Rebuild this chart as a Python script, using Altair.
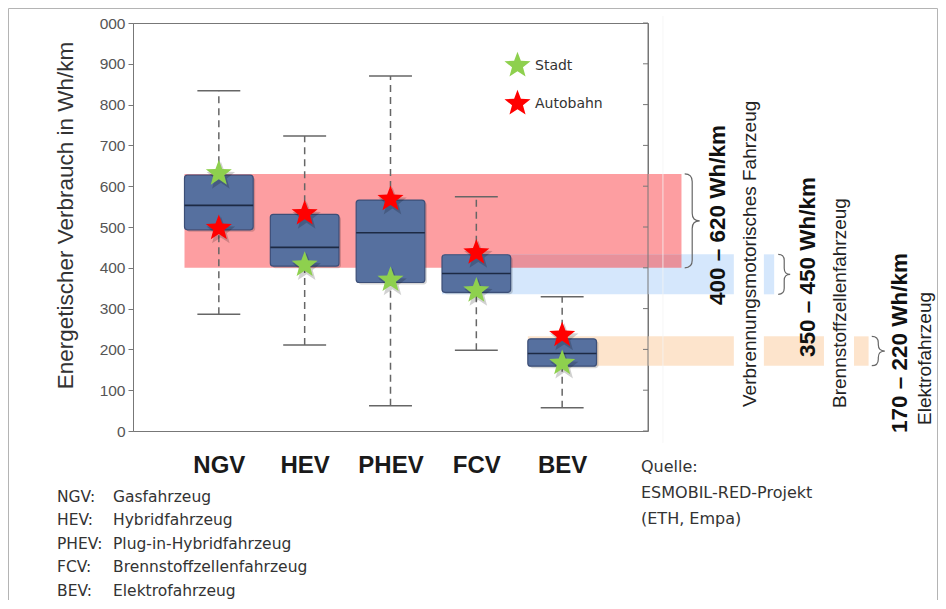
import math
import altair as alt
import pandas as pd

# ---------------- data ----------------
categories = ["NGV", "HEV", "PHEV", "FCV", "BEV"]
descriptions = ["Gasfahrzeug", "Hybridfahrzeug", "Plug-in-Hybridfahrzeug",
                "Brennstoffzellenfahrzeug", "Elektrofahrzeug"]
whisker_low = [286, 211, 62, 198, 57]
q1 = [493, 404, 364, 340, 159]
median = [553, 450, 486, 386, 190]
q3 = [627, 531, 566, 432, 226]
whisker_high = [834, 723, 870, 574, 329]
stadt = [631, 407, 370, 344, 166]
autobahn = [497, 533, 568, 437, 235]

band_names = ["Verbrennungsmotorisches Fahrzeug", "Brennstoffzellenfahrzeug", "Elektrofahrzeug"]
band_labels = ["400 – 620 Wh/km", "350 – 450 Wh/km", "170 – 220 Wh/km"]
band_low = [400, 335, 160]
band_high = [630, 433, 232]
band_colors = ["#fd9ea1", "#d5e7fc", "#fde4cc"]
overlap_color = "#e8919b"
band_segments = [[(-0.4, 5.39)], [(2.6, 6.0), (6.35, 6.47)],
                 [(3.6, 6.0), (6.35, 7.05), (7.4, 7.57)]]
brace_x = [5.515, 6.587, 7.683]

source_lines = ["Quelle:", "ESMOBIL-RED-Projekt", "(ETH, Empa)"]
legend_names = ["Stadt", "Autobahn"]
star_colors = ["#8ed04e", "#ff0000"]
y_ticks = list(range(0, 1001, 100))

FONT = "Liberation Sans, Arial, Helvetica, sans-serif"
BODY = "DejaVu Sans, Verdana, sans-serif"

# five-pointed star glyph (unit radius) as a custom symbol path
pts = []
for k in range(10):
    r = 1.0 if k % 2 == 0 else 0.42
    ang = math.radians(-90 + 36 * k)
    pts.append(f"{r * math.cos(ang):.4f},{r * math.sin(ang):.4f}")
STAR = "M" + " L".join(pts) + " Z"

xs = alt.Scale(domain=[-1, 5], nice=False, zero=False)
ys = alt.Scale(domain=[0, 1000], nice=False, zero=False)
label_expr = "[" + ",".join(f"'{c}'" for c in categories) + "][datum.value]"
x_axis = alt.Axis(values=[0, 1, 2, 3, 4], labelExpr=label_expr, title=None, grid=False,
                  ticks=False, tickSize=0, domain=False, labelFont=FONT,
                  labelFontSize=24, labelFontWeight="bold", labelColor="#1a1a1a",
                  labelPadding=22, orient="bottom")
y_axis = alt.Axis(values=y_ticks, labelExpr="datum.value == 1000 ? '000' : datum.label",
                  title="Energetischer Verbrauch in Wh/km", titleX=-68, titleY=192,
                  titleAngle=270, titleAlign="center", titleBaseline="middle",
                  titleFont=FONT, titleFontSize=22.5, titleFontWeight="normal",
                  titleColor="#333", labelFont=FONT, labelFontSize=15.5, labelColor="#555",
                  labelPadding=3, tickSize=5, tickColor="#777", domainColor="#777",
                  grid=False, orient="left")


def X(f):
    return alt.X(f"{f}:Q", scale=xs, axis=x_axis)


def Y(f):
    return alt.Y(f"{f}:Q", scale=ys, axis=y_axis)


idx = list(range(len(categories)))
box = pd.DataFrame({"i": idx, "cat": categories, "lo": whisker_low, "q1": q1,
                    "med": median, "q3": q3, "hi": whisker_high})
box["left"] = box["i"] - 0.4
box["right"] = box["i"] + 0.4
box["capl"] = box["i"] - 0.25
box["capr"] = box["i"] + 0.25

band_rows = []
for k in range(3):
    for a, b in band_segments[k]:
        band_rows.append({"x1": a, "x2": b, "lo": band_low[k], "hi": band_high[k],
                          "fill": band_colors[k]})
band_rows.append({"x1": band_segments[1][0][0], "x2": band_segments[0][0][1],
                  "lo": band_low[0], "hi": band_high[1], "fill": overlap_color})
bands = pd.DataFrame(band_rows)

stars = pd.DataFrame({
    "i": idx * 2,
    "v": stadt + autobahn,
    "kind": [legend_names[0]] * 5 + [legend_names[1]] * 5,
})
ticks = pd.DataFrame({"v": y_ticks, "x": [5] * len(y_ticks)})

band_layer = alt.Chart(bands).mark_rect().encode(
    x=X("x1"), x2="x2", y=Y("lo"), y2="hi", color=alt.Color("fill:N", scale=None))

faint = alt.Chart(pd.DataFrame({"x": [5.174], "a": [-29], "b": [1017]})).mark_rule(
    color="#f2f2f2", strokeWidth=1, opacity=0.8).encode(x=X("x"), y=Y("a"), y2="b")

whisk_up = alt.Chart(box).mark_rule(color="#666", strokeWidth=1.5, strokeDash=[7, 5]).encode(
    x=X("i"), y=Y("q3"), y2="hi")
whisk_dn = alt.Chart(box).mark_rule(color="#666", strokeWidth=1.5, strokeDash=[7, 5]).encode(
    x=X("i"), y=Y("lo"), y2="q1")
cap_up = alt.Chart(box).mark_rule(color="#666", strokeWidth=1.5).encode(
    x=X("capl"), x2="capr", y=Y("hi"))
cap_dn = alt.Chart(box).mark_rule(color="#666", strokeWidth=1.5).encode(
    x=X("capl"), x2="capr", y=Y("lo"))

box_shadow = alt.Chart(box).mark_rect(cornerRadius=3, color="#000", opacity=0.16,
                                      xOffset=2, x2Offset=2, yOffset=2, y2Offset=2).encode(
    x=X("left"), x2="right", y=Y("q1"), y2="q3")
box_body = alt.Chart(box).mark_rect(cornerRadius=3, fill="#56709f", stroke="#3c4f78",
                                    strokeWidth=1.2).encode(
    x=X("left"), x2="right", y=Y("q1"), y2="q3")
box_med = alt.Chart(box).mark_rule(color="#1d2a44", strokeWidth=1.6).encode(
    x=X("left"), x2="right", y=Y("med"))

star_shadow = alt.Chart(stars).mark_point(shape=STAR, filled=True, size=900, color="#000",
                                          opacity=0.18, xOffset=2,
                                          yOffset=3).encode(x=X("i"), y=Y("v"))
star_layer = alt.Chart(stars).mark_point(shape=STAR, filled=True, size=750,
                                         opacity=1).encode(
    x=X("i"), y=Y("v"),
    color=alt.Color("kind:N", scale=alt.Scale(domain=legend_names, range=star_colors),
                    legend=alt.Legend(orient="none", legendX=370, legendY=28, title=None,
                                      symbolType=STAR, symbolSize=750, symbolOpacity=1,
                                      labelFont=BODY, labelFontSize=14, labelColor="#333",
                                      rowPadding=12, labelOffset=3, padding=0)))

right_edge = alt.Chart(pd.DataFrame({"x": [5], "a": [0], "b": [1000]})).mark_rule(
    color="#777", strokeWidth=1).encode(x=X("x"), y=Y("a"), y2="b")
right_ticks = alt.Chart(ticks).mark_rule(color="#777", strokeWidth=1, xOffset=-5).encode(
    x=X("x"), x2="x", y=Y("v"))


def brace(k, half_w_px):
    half_h_px = (band_high[k] - band_low[k]) * 408 / 1000 / 2
    w = half_w_px / half_h_px
    c = min(w, 0.45)
    path = (f"M{-w:.3f},-1 Q0,-1 0,{-(1 - c):.3f} L0,{-c:.3f} Q0,0 {w:.3f},0 "
            f"Q0,0 0,{c:.3f} L0,{1 - c:.3f} Q0,1 {-w:.3f},1")
    size = (2 * half_h_px) ** 2
    df = pd.DataFrame({"x": [brace_x[k]], "y": [(band_low[k] + band_high[k]) / 2]})
    return alt.Chart(df).mark_point(shape=path, size=size, filled=False, color="#666",
                                    strokeWidth=1.2, opacity=1).encode(x=X("x"), y=Y("y"))


braces = [brace(0, 7.5), brace(1, 6), brace(2, 6.5)]


def text_at(text, xpx, ypx, size, weight="normal", angle=0, font=FONT, color="#333",
            baseline="middle", line_height=24):
    df = pd.DataFrame({"t": [text]})
    return alt.Chart(df).mark_text(align="left", baseline=baseline, angle=angle,
                                   fontSize=size, fontWeight=weight, font=font,
                                   color=color, lineBreak="\n", lineHeight=line_height).encode(
        x=alt.value(xpx), y=alt.value(ypx), text="t:N")


rot_bold = [text_at(band_labels[k], px, py, 22.5, "bold", 270, FONT, "#111")
            for k, (px, py) in enumerate([(585, 282), (675, 334), (767, 410)])]
rot_names = [text_at(band_names[k], px, py, 19, "normal", 270, FONT, "#222")
             for k, (px, py) in enumerate([(617, 384), (707, 385), (792, 402)])]
footer_abbr = text_at("\n".join(c + ":" for c in categories), -76, 466.5, 15.5,
                      font=BODY, baseline="top", line_height=23.5)
footer_desc = text_at("\n".join(descriptions), -20, 466.5, 15.5,
                      font=BODY, baseline="top", line_height=23.5)
source = text_at("\n".join(source_lines), 508, 436, 16, font=BODY, baseline="top",
                 line_height=26)

frame = alt.Chart(pd.DataFrame({"a": [0]})).mark_rect(
    fillOpacity=0, stroke="#b4b4b4", strokeWidth=1).encode(
    x=alt.value(-124.5), x2=alt.value(804.5), y=alt.value(-14.5), y2=alt.value(620))

chart = alt.layer(
    band_layer, faint, whisk_up, whisk_dn, cap_up, cap_dn, box_shadow, box_body, box_med,
    star_shadow, star_layer, right_edge, right_ticks, *braces,
    *rot_bold, *rot_names, footer_abbr, footer_desc, source, frame
).properties(
    width=515, height=408,
    autosize=alt.AutoSizeParams(type="none"),
    padding={"left": 125, "top": 15, "right": 290, "bottom": 169},
    background="white",
).configure_view(stroke="#777", strokeWidth=1)

chart.save("out.html", embed_options={"renderer": "svg", "actions": False})
